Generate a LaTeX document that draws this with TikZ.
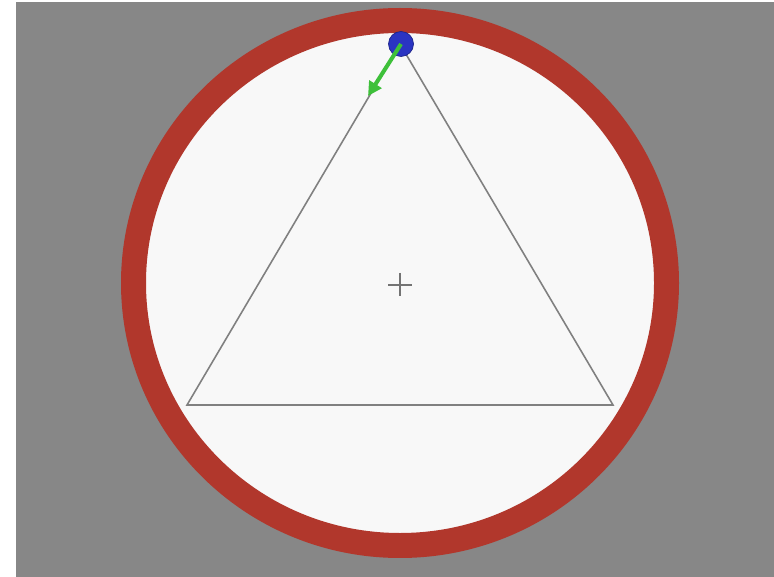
\documentclass[tikz,border=0pt]{standalone}
\usepackage{xcolor}
\usetikzlibrary{arrows.meta}
\definecolor{bggray}{HTML}{878787}
\definecolor{rimred}{HTML}{B1372C}
\definecolor{padwhite}{HTML}{F8F8F8}
\definecolor{ballblue}{HTML}{2A34C2}
\definecolor{velgreen}{HTML}{3EC03A}
\tikzset{
  rim/.style={draw=rimred, line width=0.5cm, fill=padwhite},
  triside/.style={draw=black!50, line width=0.9pt},
  ball/.style={circle, fill=ballblue, draw=ballblue!70!black, line width=0.4pt,
               minimum size=0.5cm, inner sep=0pt},
  vel/.style={-{Triangle[length=8pt, width=8pt]}, velgreen, line width=2.3pt},
  crossmark/.style={draw=black!55, line width=0.8pt},
}
\begin{document}
\begin{tikzpicture}[x=0.02cm, y=-0.02cm]
  \useasboundingbox (0,0) rectangle (774,577);
  \fill[bggray] (16,2) rectangle (774,577);
  %% Arena
  \coordinate (ctr) at (400,283);
  \draw[rim] (ctr) ellipse[x radius=266.5, y radius=262.5];
  %% Triangle
  \coordinate (top)   at (400,44);
  \coordinate (left)  at (187,405);
  \coordinate (right) at (613,405);
  \draw[triside] (top) -- (left) -- (right) -- cycle;
  %% Centre mark
  \coordinate (cn) at (400,273);
  \coordinate (cs) at (400,296);
  \coordinate (cw) at (388,285);
  \coordinate (ce) at (412,285);
  \draw[crossmark] (cn) -- (cs) (cw) -- (ce);
  %% Ball and velocity
  \node[ball] (bob) at (401,44) {};
  \coordinate (vtip) at (368,96);
  \draw[vel] (bob.center) -- (vtip);
\end{tikzpicture}
\end{document}
